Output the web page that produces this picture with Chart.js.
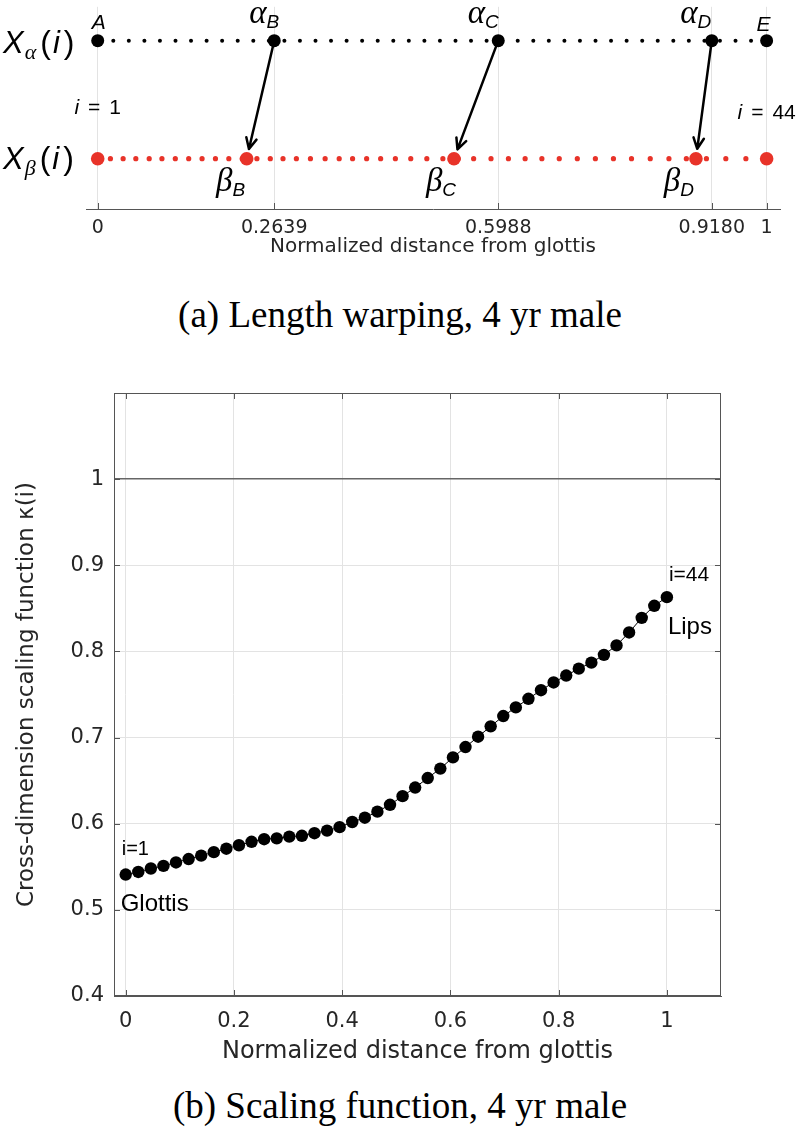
<!DOCTYPE html>
<html>
<head>
<meta charset="utf-8">
<script src="https://cdn.jsdelivr.net/npm/chart.js@4"></script>
<style>
  body { margin: 0; background: #fff; width: 800px; height: 1129px; position: relative; overflow: hidden; }
  canvas { position: absolute; left: 0; }
  #lengthWarp { top: 0; }
  #scaling { top: 370px; }
  .caption { position: absolute; left: 0; width: 800px; text-align: center; font-family: "Liberation Serif", serif; font-size: 37px; line-height: 40px; color: #000; }
</style>
</head>
<body>
<canvas id="lengthWarp" width="800" height="270"></canvas>
<div class="caption" style="top:295px">(a) Length warping, 4 yr male</div>
<canvas id="scaling" width="800" height="700"></canvas>
<div class="caption" style="top:1086px">(b) Scaling function, 4 yr male</div>
<script>
// sample grid along the tract, i = 1..44 (normalized distance)
var alphaX = [0, 0.0233, 0.0465, 0.0698, 0.0930, 0.1163, 0.1395, 0.1628, 0.1860, 0.2093, 0.2326,
  0.2558, 0.2791, 0.3023, 0.3256, 0.3488, 0.3721, 0.3953, 0.4186, 0.4419, 0.4651, 0.4884,
  0.5116, 0.5349, 0.5581, 0.5814, 0.6047, 0.6279, 0.6512, 0.6744, 0.6977, 0.7209, 0.7442,
  0.7674, 0.7907, 0.8140, 0.8372, 0.8605, 0.8837, 0.9070, 0.9302, 0.9535, 0.9767, 1];
// warped positions
var betaX = [0, 0.019, 0.038, 0.057, 0.077, 0.096, 0.116, 0.136, 0.156, 0.176, 0.196,
  0.216, 0.238, 0.258, 0.277, 0.297, 0.318, 0.340, 0.361, 0.381, 0.402, 0.423,
  0.445, 0.468, 0.492, 0.516, 0.539, 0.562, 0.588, 0.614, 0.639, 0.664, 0.690,
  0.717, 0.744, 0.771, 0.798, 0.826, 0.854, 0.880, 0.910, 0.939, 0.969, 1];
var alphaMarks = [0, 0.2639, 0.5988, 0.9180, 1];
var betaMarks = [0, 0.2227, 0.5326, 0.8943, 1];
var markNames = ['A', 'B', 'C', 'D', 'E'];
var topTicks = [0, 0.2639, 0.5988, 0.9180, 1];
var topTickLabels = ['0', '0.2639', '0.5988', '0.9180', '1'];

// cross-dimension scaling function kappa(i)
var kappa = [0.541, 0.544, 0.548, 0.551, 0.555, 0.559, 0.563, 0.567, 0.571, 0.575,
  0.579, 0.582, 0.583, 0.585, 0.586, 0.589, 0.592, 0.596, 0.602, 0.607,
  0.614, 0.622, 0.632, 0.642, 0.653, 0.664, 0.677, 0.689, 0.701, 0.713,
  0.725, 0.735, 0.745, 0.755, 0.764, 0.772, 0.780, 0.787, 0.796, 0.807,
  0.822, 0.839, 0.853, 0.863];
var xTicks = [0, 0.2, 0.4, 0.6, 0.8, 1];
var yTicks = [0.4, 0.5, 0.6, 0.7, 0.8, 0.9, 1];

var RED = 'rgb(232,51,41)';
var AXIS = '#555555';
var GRID = '#e3e3e3';
var ALPHA_ROW = 2, BETA_ROW = 1;

Chart.defaults.font.family = '"DejaVu Sans", sans-serif';
Chart.defaults.color = '#262626';

var pts = function(xs, y) {
  return xs.map(function(x) { return {x: x, y: y}; });
};

// draw a run of text pieces (for subscripts / mixed fonts)
var drawRuns = function(ctx, runs, x, y, align) {
  var w = 0;
  runs.forEach(function(r) { ctx.font = r.font; r.w = ctx.measureText(r.text).width; w += r.w + (r.gap || 0); });
  var cx = align === 'center' ? x - w / 2 : x;
  runs.forEach(function(r) {
    ctx.font = r.font;
    cx += (r.gap || 0);
    ctx.fillText(r.text, cx, y + (r.dy || 0));
    cx += r.w;
  });
};

var greek = 'italic 33px "Liberation Serif"';
var subF = 'italic 19px "Liberation Sans"';
var letterF = 'italic 21px "Liberation Sans"';
var bigX = 'italic 31px "Liberation Sans"';
var paren = '32px "Liberation Sans"';
var iF = 'italic 21px "Liberation Sans"';
var plainF = '21px "Liberation Sans"';

var warpPlugin = {
  id: 'warp',
  afterDatasetsDraw: function(chart) {
    var ctx = chart.ctx, xs = chart.scales.x, ys = chart.scales.y;
    var ya = ys.getPixelForValue(ALPHA_ROW), yb = ys.getPixelForValue(BETA_ROW);
    ctx.save();
    // arrows alpha -> beta
    ctx.strokeStyle = '#000';
    ctx.lineWidth = 2.5;
    ctx.lineCap = 'round';
    for (var k = 1; k < 4; k++) {
      var x0 = xs.getPixelForValue(alphaMarks[k]), x1 = xs.getPixelForValue(betaMarks[k]);
      var dx = x1 - x0, dy = yb - ya, len = Math.sqrt(dx * dx + dy * dy);
      var ux = dx / len, uy = dy / len;
      var tx = x1 - ux * 10, ty = yb - uy * 10;
      ctx.beginPath();
      ctx.moveTo(x0, ya);
      ctx.lineTo(tx, ty);
      var ang = Math.atan2(uy, ux);
      [0.45, -0.45].forEach(function(a) {
        ctx.moveTo(tx, ty);
        ctx.lineTo(tx - 12 * Math.cos(ang + a), ty - 12 * Math.sin(ang + a));
      });
      ctx.stroke();
    }
    // labels
    ctx.fillStyle = '#000';
    ctx.textBaseline = 'alphabetic';
    ctx.textAlign = 'left';
    var aOff = [1, -10, -15, -16, -3];
    var bOff = [0, -16, -13, -17, 0];
    drawRuns(ctx, [{text: 'A', font: letterF}], xs.getPixelForValue(alphaMarks[0]) + aOff[0], ya - 12, 'center');
    drawRuns(ctx, [{text: 'E', font: letterF}], xs.getPixelForValue(alphaMarks[4]) + aOff[4], ya - 10, 'center');
    for (var j = 1; j < 4; j++) {
      drawRuns(ctx, [{text: '\u03b1', font: greek}, {text: markNames[j], font: subF, dy: 5}],
        xs.getPixelForValue(alphaMarks[j]) + aOff[j], ya - 18, 'center');
      drawRuns(ctx, [{text: '\u03b2', font: greek}, {text: markNames[j], font: subF, dy: 5}],
        xs.getPixelForValue(betaMarks[j]) + bOff[j], yb + 32, 'center');
    }
    var sub = 'italic 22px "Liberation Serif"';
    drawRuns(ctx, [{text: 'X', font: bigX}, {text: '\u03b1', font: sub, dy: 6, gap: 1},
      {text: '(', font: paren, gap: 4}, {text: 'i', font: bigX, gap: 2}, {text: ')', font: paren, gap: 4}], 3, ya + 12, 'left');
    drawRuns(ctx, [{text: 'X', font: bigX}, {text: '\u03b2', font: sub, dy: 6, gap: 1},
      {text: '(', font: paren, gap: 4}, {text: 'i', font: bigX, gap: 2}, {text: ')', font: paren, gap: 4}], 3, yb + 10, 'left');
    var mid = ys.getPixelForValue((ALPHA_ROW + BETA_ROW) / 2);
    drawRuns(ctx, [{text: 'i', font: iF}, {text: '=', font: plainF, gap: 9}, {text: '1', font: plainF, gap: 9}],
      xs.getPixelForValue(0), mid + 14, 'center');
    drawRuns(ctx, [{text: 'i', font: iF}, {text: '=', font: plainF, gap: 9}, {text: '44', font: plainF, gap: 9}],
      xs.getPixelForValue(1), mid + 19, 'center');
    ctx.restore();
  },
  afterDraw: function(chart) {
    var ctx = chart.ctx, xs = chart.scales.x, b = chart.chartArea.bottom;
    ctx.save();
    ctx.strokeStyle = AXIS;
    ctx.lineWidth = 1;
    topTicks.forEach(function(v) {
      var px = Math.round(xs.getPixelForValue(v)) + 0.5;
      ctx.beginPath(); ctx.moveTo(px, b); ctx.lineTo(px, b - 6); ctx.stroke();
    });
    ctx.restore();
  }
};

new Chart(document.getElementById('lengthWarp'), {
  type: 'scatter',
  data: {
    datasets: [
      {data: pts(alphaX, ALPHA_ROW), pointRadius: 2, pointBackgroundColor: '#000', pointBorderWidth: 0},
      {data: pts(betaX, BETA_ROW), pointRadius: 2.6, pointBackgroundColor: RED, pointBorderWidth: 0},
      {data: pts(alphaMarks, ALPHA_ROW), pointRadius: 6.5, pointBackgroundColor: '#000', pointBorderWidth: 0},
      {data: pts(betaMarks, BETA_ROW), pointRadius: 6.8, pointBackgroundColor: RED, pointBorderWidth: 0}
    ]
  },
  options: {
    responsive: false,
    animation: false,
    events: [],
    layout: {padding: {left: 86, right: 20, top: 0, bottom: 0}},
    plugins: {legend: {display: false}, tooltip: {enabled: false}},
    scales: {
      x: {
        type: 'linear', min: -0.0175, max: 1.02,
        afterBuildTicks: function(s) { s.ticks = topTicks.map(function(v) { return {value: v}; }); },
        afterFit: function(s) { s.height = 61; },
        ticks: {autoSkip: false, maxRotation: 0, padding: 8, font: {size: 19},
          callback: function(v, i) { return topTickLabels[i]; }},
        grid: {color: GRID, drawTicks: false},
        border: {display: true, color: AXIS, width: 1},
        title: {display: true, text: 'Normalized distance from glottis', font: {size: 20}, padding: {top: 0, bottom: 11}}
      },
      y: {display: false, min: 0.574, max: 2.287}
    }
  },
  plugins: [warpPlugin]
});

var boxPlugin = {
  id: 'box',
  afterDraw: function(chart) {
    var ctx = chart.ctx, a = chart.chartArea, xs = chart.scales.x, ys = chart.scales.y;
    ctx.save();
    ctx.strokeStyle = AXIS;
    ctx.lineWidth = 1;
    ctx.strokeRect(a.left + 0.5, a.top + 0.5, a.right - a.left - 1, a.bottom - a.top - 1);
    ctx.beginPath();
    xTicks.forEach(function(v) {
      var px = Math.round(xs.getPixelForValue(v)) + 0.5;
      ctx.moveTo(px, a.bottom); ctx.lineTo(px, a.bottom - 6);
      ctx.moveTo(px, a.top); ctx.lineTo(px, a.top + 6);
    });
    yTicks.forEach(function(v) {
      var py = Math.round(ys.getPixelForValue(v)) + 0.5;
      ctx.moveTo(a.left, py); ctx.lineTo(a.left + 6, py);
      ctx.moveTo(a.right, py); ctx.lineTo(a.right - 6, py);
    });
    ctx.stroke();
    // end labels
    var n = kappa.length - 1;
    var p0x = xs.getPixelForValue(alphaX[0]), p0y = ys.getPixelForValue(kappa[0]);
    var pnx = xs.getPixelForValue(alphaX[n]), pny = ys.getPixelForValue(kappa[n]);
    ctx.fillStyle = '#000';
    ctx.textAlign = 'left';
    ctx.textBaseline = 'alphabetic';
    ctx.font = '20px "Liberation Sans"';
    ctx.fillText('i=1', p0x - 4, p0y - 20);
    ctx.font = '21px "Liberation Sans"';
    ctx.fillText('i=44', pnx + 2, pny - 16);
    ctx.font = '24px "Liberation Sans"';
    ctx.fillText('Glottis', p0x - 5, p0y + 36);
    ctx.fillText('Lips', pnx + 1, pny + 37);
    ctx.restore();
  }
};

new Chart(document.getElementById('scaling'), {
  type: 'scatter',
  data: {
    datasets: [{
      data: alphaX.map(function(x, i) { return {x: x, y: kappa[i]}; }),
      showLine: true,
      borderColor: '#000',
      borderWidth: 1,
      pointRadius: 6.2,
      pointBackgroundColor: '#000',
      pointBorderWidth: 0
    }]
  },
  options: {
    responsive: false,
    animation: false,
    events: [],
    layout: {padding: {left: 0, right: 79, top: 23, bottom: 0}},
    plugins: {legend: {display: false}, tooltip: {enabled: false}},
    scales: {
      x: {
        type: 'linear', min: -0.0216, max: 1.1,
        afterBuildTicks: function(s) { s.ticks = xTicks.map(function(v) { return {value: v}; }); },
        afterFit: function(s) { s.height = 74; },
        ticks: {autoSkip: false, maxRotation: 0, padding: 13, font: {size: 21},
          callback: function(v) { return String(v); }},
        grid: {color: GRID, drawTicks: false},
        border: {display: true, color: AXIS},
        title: {display: true, text: 'Normalized distance from glottis', font: {size: 24}, padding: {top: 0, bottom: 4}}
      },
      y: {
        type: 'linear', min: 0.4, max: 1.1,
        afterBuildTicks: function(s) { s.ticks = yTicks.map(function(v) { return {value: v}; }); },
        afterFit: function(s) { s.width = 114; },
        ticks: {autoSkip: false, padding: 10, font: {size: 21},
          callback: function(v) { return String(v); }},
        grid: {drawTicks: false, color: function(c) { return c.tick && c.tick.value === 1 ? '#666666' : GRID; },
          lineWidth: function(c) { return c.tick && c.tick.value === 1 ? 1.5 : 1; }},
        border: {display: true, color: AXIS},
        title: {display: true, text: 'Cross-dimension scaling function \u03ba(i)', font: {size: 23}, padding: {top: 13, bottom: 0}}
      }
    }
  },
  plugins: [boxPlugin]
});
</script>
</body>
</html>
